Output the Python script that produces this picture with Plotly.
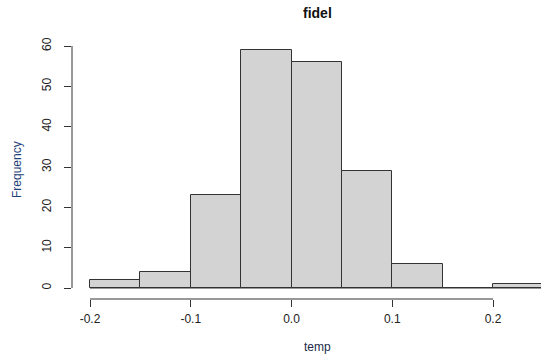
import plotly.graph_objects as go

# Data
bin_edges = [-0.20, -0.15, -0.10, -0.05, 0.00, 0.05, 0.10, 0.15, 0.20, 0.25]
counts = [2, 4, 23, 59, 56, 29, 6, 0, 1]
x_ticks = [-0.2, -0.1, 0.0, 0.1, 0.2]
x_tick_labels = ["-0.2", "-0.1", "0.0", "0.1", "0.2"]
y_ticks = [0, 10, 20, 30, 40, 50, 60]
y_tick_labels = ["0", "10", "20", "30", "40", "50", "60"]

W, H = 541, 356
L, R, T, B = 72, 0, 30, 57
pw, ph = W - L - R, H - T - B

centers = [(a + b) / 2 for a, b in zip(bin_edges[:-1], bin_edges[1:])]
widths = [b - a for a, b in zip(bin_edges[:-1], bin_edges[1:])]

fig = go.Figure()
fig.add_trace(go.Bar(
    x=centers, y=counts, width=widths,
    marker=dict(color="#D3D3D3", line=dict(color="#333333", width=1)),
    hoverinfo="x+y", showlegend=False,
))

# x scale: -0.2 -> px 90, 0.2 -> px 493
xpx = (493 - 90) / 0.4
x0 = -0.2 - (90 - L) / xpx
x1 = -0.2 + (W - R - 90) / xpx
# y scale: 0 -> py 288, 60 -> py 46
ypx = (288 - 46) / 60
y0 = -((H - B) - 288) / ypx
y1 = 60 + (46 - T) / ypx

font = "Liberation Sans, Arial, sans-serif"
axcol = "#333333"

# zero-height baseline across bins (R draws zero-count bins as a line)
fig.add_shape(type="line", xref="x", yref="y",
              x0=bin_edges[0], x1=bin_edges[-1], y0=0, y1=0,
              line=dict(color="#333333", width=1))
# R-style axis lines spanning tick range
fig.add_shape(type="line", xref="x", yref="paper",
              x0=min(x_ticks), x1=max(x_ticks), y0=0, y1=0,
              line=dict(color=axcol, width=1))
fig.add_shape(type="line", xref="paper", yref="y",
              x0=0, x1=0, y0=min(y_ticks), y1=max(y_ticks),
              line=dict(color=axcol, width=1))

fig.update_layout(
    width=W, height=H,
    margin=dict(l=L, r=R, t=T, b=B),
    paper_bgcolor="white", plot_bgcolor="white",
    font=dict(family=font, size=12, color="#222222"),
    bargap=0,
    xaxis=dict(range=[x0, x1], tickvals=x_ticks, ticktext=x_tick_labels,
               ticks="outside", ticklen=7, tickcolor=axcol, tickwidth=1,
               showline=False, showgrid=False, zeroline=False,
               tickfont=dict(size=12, color="#222222"), ticklabelstandoff=2),
    yaxis=dict(range=[y0, y1], tickvals=y_ticks, ticktext=y_tick_labels,
               ticks="outside", ticklen=7, tickcolor=axcol, tickwidth=1,
               showline=False, showgrid=False, zeroline=False, tickangle=-90,
               tickfont=dict(size=12, color="#222222"), ticklabelstandoff=8),
    annotations=[
        dict(text="<b>fidel</b>", xref="paper", yref="paper",
             x=(317 - L) / pw, y=(H - B - 13) / ph, showarrow=False,
             font=dict(size=14, color="#111111", family=font),
             xanchor="center", yanchor="middle"),
        dict(text="temp", xref="paper", yref="paper",
             x=(317 - L) / pw, y=(H - B - 347) / ph, showarrow=False,
             font=dict(size=12, color="#1c2a4a", family=font),
             xanchor="center", yanchor="middle"),
        dict(text="Frequency", xref="paper", yref="paper",
             x=(17 - L) / pw, y=(H - B - 170) / ph, showarrow=False,
             textangle=-90,
             font=dict(size=12, color="#1f3f7a", family=font),
             xanchor="center", yanchor="middle"),
    ],
)

fig.write_html("out.html", config={"displayModeBar": False},
               post_script="document.body.style.margin='0';document.body.style.overflow='hidden';")
